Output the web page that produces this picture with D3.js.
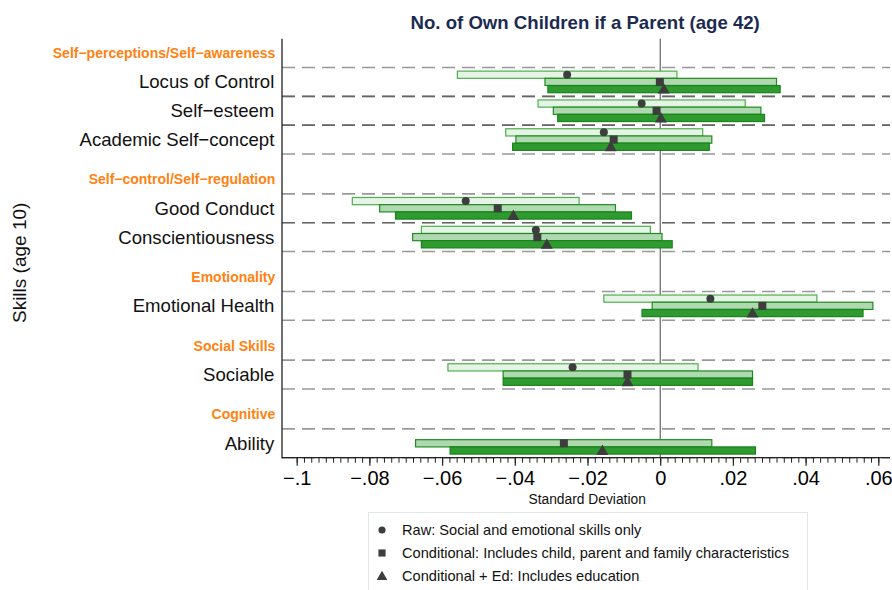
<!DOCTYPE html>
<html>
<head>
<meta charset="utf-8">
<script src="https://cdn.jsdelivr.net/npm/d3@7"></script>
<style>
  body { margin: 0; background: #fff; }
  svg { font-family: "Liberation Sans", Arial, Helvetica, sans-serif; }
</style>
</head>
<body>
<div id="chart"></div>
<script>
// skill groups and items (top to bottom)
var groups = ["Self\u2212perceptions/Self\u2212awareness", "Self\u2212control/Self\u2212regulation",
              "Emotionality", "Social Skills", "Cognitive"];
var items = ["Locus of Control", "Self\u2212esteem", "Academic Self\u2212concept", "Good Conduct",
             "Conscientiousness", "Emotional Health", "Sociable", "Ability"];
var itemGroup = [0, 0, 0, 1, 1, 2, 3, 4];

// Raw: social and emotional skills only (no raw estimate for Ability)
var rawEst = [-0.0256, -0.0051, -0.0155, -0.0535, -0.0342, 0.0138, -0.0241, null];
var rawLo  = [-0.0558, -0.0336, -0.0425, -0.0847, -0.0657, -0.0155, -0.0584, null];
var rawHi  = [ 0.0046,  0.0234,  0.0117, -0.0223, -0.0027,  0.0431,  0.0104, null];

// Conditional: child, parent and family characteristics
var condEst = [-0.0001, -0.0010, -0.0128, -0.0447, -0.0338, 0.0281, -0.0090, -0.0265];
var condLo  = [-0.0317, -0.0294, -0.0397, -0.0772, -0.0681, -0.0022, -0.0432, -0.0673];
var condHi  = [ 0.0320,  0.0277,  0.0142, -0.0123,  0.0005,  0.0585,  0.0254,  0.0142];

// Conditional + Ed: includes education
var edEst = [ 0.0010,  0.0002, -0.0136, -0.0404, -0.0312, 0.0254, -0.0090, -0.0159];
var edLo  = [-0.0309, -0.0282, -0.0406, -0.0728, -0.0657, -0.0050, -0.0432, -0.0578];
var edHi  = [ 0.0330,  0.0287,  0.0135, -0.0079,  0.0033,  0.0558,  0.0254,  0.0262];

var xTicks = [-0.1, -0.08, -0.06, -0.04, -0.02, 0, 0.02, 0.04, 0.06];
var xTickLabels = ["\u2212.1", "\u2212.08", "\u2212.06", "\u2212.04", "\u2212.02", "0", ".02", ".04", ".06"];

var legendLabels = ["Raw: Social and emotional skills only",
                    "Conditional: Includes child, parent and family characteristics",
                    "Conditional + Ed: Includes education"];

var width = 892, height = 590;
var plot = {left: 282, right: 890, top: 38.7, bottom: 457.7};

var svg = d3.select("#chart").append("svg")
  .attr("width", width)
  .attr("height", height);

// row positions: header one unit above its first item, extra gap between groups
var groupGap = 1.385;
var headerPos = [], itemPos = [];
var pos = 0;
groups.forEach(function(g, gi) {
  if (gi > 0) pos += groupGap;
  headerPos.push(pos);
  items.forEach(function(it, i) {
    if (itemGroup[i] == gi) { pos += 1; itemPos[i] = pos; }
  });
});

var x = d3.scaleLinear().domain([-0.1, 0.06]).range([296.7, 878.3]);
var y = d3.scaleLinear().domain([-0.5, pos + 0.5]).range([plot.top, plot.bottom]);
var unit = y(1) - y(0);
var barH = unit * 0.25;

// dashed row boundaries, semi transparent so shared edges look darker
items.forEach(function(it, i) {
  [itemPos[i] - 0.5, itemPos[i] + 0.5].forEach(function(p) {
    svg.append("line")
      .attr("x1", plot.left).attr("x2", plot.right)
      .attr("y1", y(p)).attr("y2", y(p))
      .attr("stroke", "#333")
      .attr("stroke-opacity", 0.5)
      .attr("stroke-width", 1.6)
      .attr("stroke-dasharray", "13,7");
  });
});

// zero line
svg.append("line")
  .attr("x1", x(0)).attr("x2", x(0))
  .attr("y1", plot.top).attr("y2", plot.bottom)
  .attr("stroke", "#444").attr("stroke-width", 1);

var series = [
  {est: rawEst, lo: rawLo, hi: rawHi, fill: "#e6f3e6", stroke: "#4db04d", off: -1, shape: d3.symbolCircle, size: 50},
  {est: condEst, lo: condLo, hi: condHi, fill: "#b1d9b1", stroke: "#1e8c1e", off: 0, shape: d3.symbolSquare, size: 64},
  {est: edEst, lo: edLo, hi: edHi, fill: "#2f9a2f", stroke: "#17851a", off: 1, shape: d3.symbolTriangle, size: 62}
];

series.forEach(function(s) {
  var idx = d3.range(items.length).filter(function(i) { return s.lo[i] != null; });
  svg.append("g").selectAll("rect")
    .data(idx)
    .enter()
    .append("rect")
    .attr("x", function(i) { return x(s.lo[i]); })
    .attr("width", function(i) { return x(s.hi[i]) - x(s.lo[i]); })
    .attr("y", function(i) { return y(itemPos[i]) + s.off * barH - barH / 2; })
    .attr("height", barH)
    .attr("fill", s.fill)
    .attr("stroke", s.stroke)
    .attr("stroke-width", 1.2);
});

series.forEach(function(s) {
  var idx = d3.range(items.length).filter(function(i) { return s.est[i] != null; });
  svg.append("g").selectAll("path")
    .data(idx)
    .enter()
    .append("path")
    .attr("d", d3.symbol().type(s.shape).size(s.size))
    .attr("transform", function(i) {
      var dy = s.shape == d3.symbolTriangle ? 1 : 0;
      return "translate(" + x(s.est[i]) + "," + (y(itemPos[i]) + s.off * barH + dy) + ")";
    })
    .attr("fill", "#3d3d3d");
});

// axes lines
svg.append("line")
  .attr("x1", plot.left).attr("x2", plot.left)
  .attr("y1", plot.top).attr("y2", plot.bottom + 0.5)
  .attr("stroke", "#222").attr("stroke-width", 1.3);
svg.append("line")
  .attr("x1", plot.left).attr("x2", plot.right)
  .attr("y1", plot.bottom).attr("y2", plot.bottom)
  .attr("stroke", "#222").attr("stroke-width", 1.3);

// minor ticks
svg.append("g")
  .attr("transform", "translate(0," + plot.bottom + ")")
  .call(d3.axisBottom(x)
    .tickValues(d3.range(0, 81).map(function(k) { return -0.1 + k * 0.002; }))
    .tickSize(5)
    .tickFormat(""))
  .call(function(g) { g.select(".domain").remove(); g.selectAll("line").attr("stroke", "#222"); });

// major ticks
svg.append("g")
  .attr("transform", "translate(0," + plot.bottom + ")")
  .call(d3.axisBottom(x)
    .tickValues(xTicks)
    .tickSize(8)
    .tickPadding(5)
    .tickFormat(function(d, i) { return xTickLabels[i]; }))
  .call(function(g) {
    g.select(".domain").remove();
    g.selectAll("line").attr("stroke", "#222").attr("stroke-width", 1.2);
    g.selectAll("text")
      .attr("font-size", 20)
      .attr("font-family", "Liberation Sans, Arial, sans-serif")
      .attr("fill", "#000");
  });

function addDot(t, color) {
  t.append("tspan").attr("font-size", 6).attr("font-weight", "normal").attr("fill", color || "#888").text(".");
}

// group headers
groups.forEach(function(g, gi) {
  var t = svg.append("text")
    .attr("x", 277)
    .attr("y", y(headerPos[gi]) + 5)
    .attr("text-anchor", "end")
    .attr("font-size", 14)
    .attr("font-weight", "bold")
    .attr("fill", "#ff8210")
    .text(g);
  addDot(t, "#ffb070");
});

// item labels
items.forEach(function(it, i) {
  var t = svg.append("text")
    .attr("x", 276)
    .attr("y", y(itemPos[i]) + 6.5)
    .attr("text-anchor", "end")
    .attr("font-size", 18.6)
    .attr("fill", "#111")
    .text(it);
  addDot(t);
});

// title
var title = svg.append("text")
  .attr("x", 586)
  .attr("y", 29)
  .attr("text-anchor", "middle")
  .attr("font-size", 18.6)
  .attr("font-weight", "bold")
  .attr("fill", "#1c2a52")
  .text("No. of Own Children if a Parent (age 42)");
addDot(title);

// axis titles
var xt = svg.append("text")
  .attr("x", 588)
  .attr("y", 504)
  .attr("text-anchor", "middle")
  .attr("font-size", 13.8)
  .attr("fill", "#111")
  .text("Standard Deviation");
addDot(xt);

var yt = svg.append("text")
  .attr("transform", "translate(26," + 262 + ")rotate(-90)")
  .attr("text-anchor", "middle")
  .attr("font-size", 19)
  .attr("fill", "#111")
  .text("Skills (age 10)");
addDot(yt);

// legend
var legend = svg.append("g");
legend.append("rect")
  .attr("x", 368.5).attr("y", 512.5)
  .attr("width", 439).attr("height", 90)
  .attr("fill", "#fff")
  .attr("stroke", "#e2e8e8")
  .attr("stroke-width", 1);

series.forEach(function(s, i) {
  var ly = 530 + i * 23;
  legend.append("path")
    .attr("d", d3.symbol().type(s.shape).size(s.size * 0.8))
    .attr("transform", "translate(382," + (ly + (s.shape == d3.symbolTriangle ? 1 : 0)) + ")")
    .attr("fill", "#3d3d3d");
  var t = legend.append("text")
    .attr("x", 402)
    .attr("y", ly + 5)
    .attr("font-size", 14.6)
    .attr("fill", "#111")
    .text(legendLabels[i]);
  addDot(t);
});
</script>
</body>
</html>
